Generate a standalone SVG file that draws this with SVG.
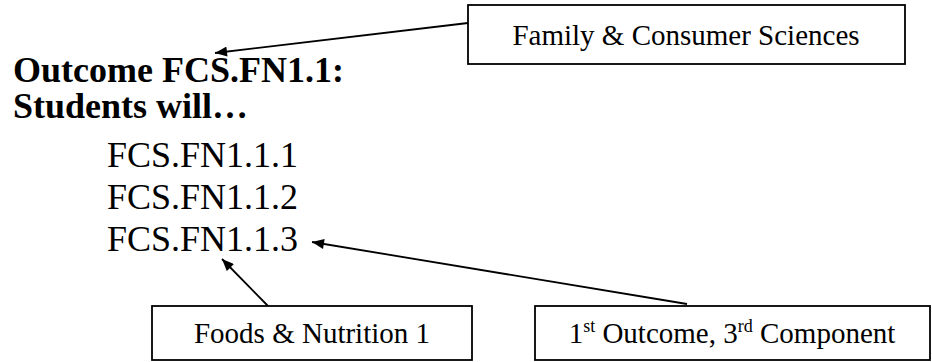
<svg xmlns="http://www.w3.org/2000/svg" width="932" height="362" viewBox="0 0 932 362">
<style>
.box{fill:#fff;stroke:#000;stroke-width:1.8}
.bt{font-family:"Liberation Serif","Times New Roman",serif;font-size:29px;fill:#000;text-anchor:middle}
.h{font-family:"Liberation Serif","Times New Roman",serif;font-size:36px;font-weight:bold;fill:#000}
.c{font-family:"Liberation Serif","Times New Roman",serif;font-size:36px;fill:#000}
.ln{stroke:#000;stroke-width:1.8;fill:none;marker-end:url(#ah)}
</style>
<defs>
<marker id="ah" viewBox="0 0 12 10" refX="12" refY="5" markerWidth="13" markerHeight="10" markerUnits="userSpaceOnUse" orient="auto">
<path d="M0,0 L12,5 L0,10 z" fill="#000"/>
</marker>
</defs>
<rect width="932" height="362" fill="#fff"/>
<g id="title">
<text class="h" x="13" y="82">Outcome FCS.FN1.1:</text>
<text class="h" x="13" y="118">Students will…</text>
</g>
<g id="components">
<text class="c" x="107" y="167">FCS.FN1.1.1</text>
<text class="c" x="107" y="209">FCS.FN1.1.2</text>
<text class="c" x="107" y="251">FCS.FN1.1.3</text>
</g>
<g id="connectors">
<line class="ln" x1="468" y1="23" x2="215" y2="53"/>
<line class="ln" x1="268" y1="306" x2="222" y2="259"/>
<line class="ln" x1="687" y1="304" x2="312" y2="242"/>
</g>
<g id="fcs-box">
<rect class="box" x="468" y="5" width="437" height="59"/>
<text class="bt" x="686" y="45">Family &amp; Consumer Sciences</text>
</g>
<g id="foods-box">
<rect class="box" x="152" y="306" width="320" height="54"/>
<text class="bt" x="312" y="343">Foods &amp; Nutrition 1</text>
</g>
<g id="component-box">
<rect class="box" x="535" y="306" width="395" height="54"/>
<text class="bt" x="732" y="343">1<tspan font-size="18" dy="-11">st</tspan><tspan dy="11"> Outcome, 3</tspan><tspan font-size="18" dy="-11">rd</tspan><tspan dy="11"> Component</tspan></text>
</g>
</svg>
